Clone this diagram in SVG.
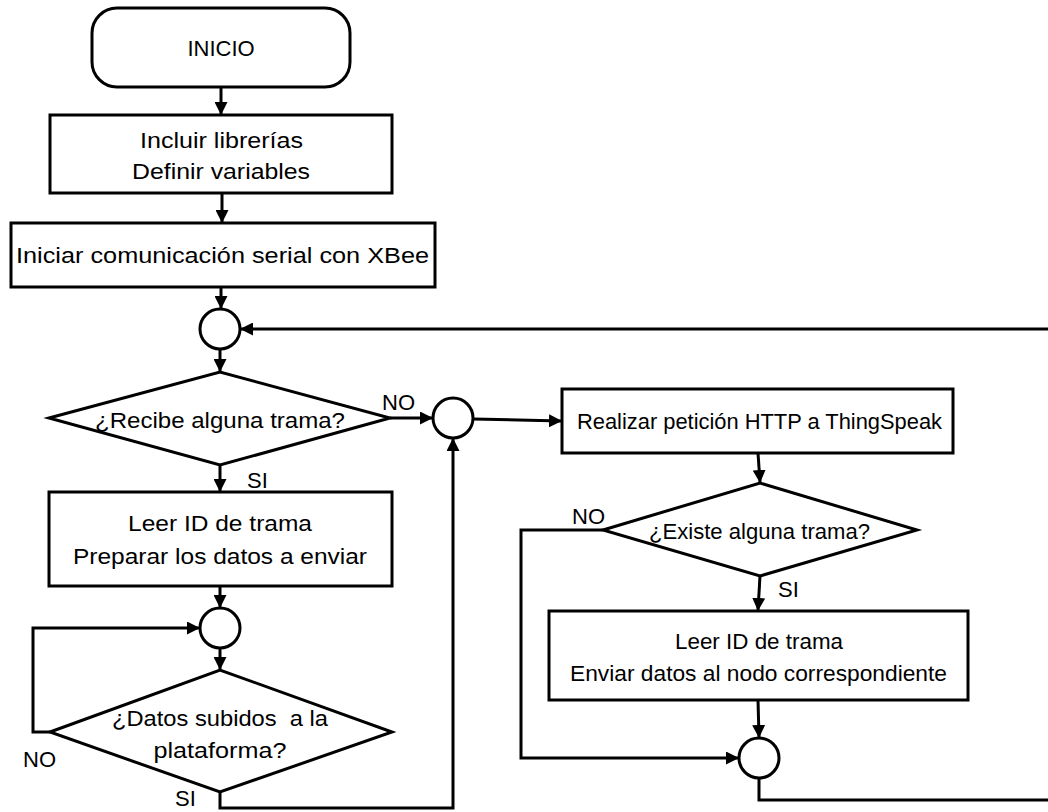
<svg xmlns="http://www.w3.org/2000/svg" width="1048" height="812" viewBox="0 0 1048 812">
  <style>
    .shape { fill: #ffffff; stroke: #000000; stroke-width: 3; }
    .link { fill: none; stroke: #000000; stroke-width: 3; }
    text { font-family: "Liberation Sans", Arial, sans-serif; font-size: 22px; fill: #000000; }
    .c { text-anchor: middle; }
  </style>
  <defs>
    <marker id="arrow" markerUnits="userSpaceOnUse" markerWidth="13" markerHeight="13" refX="12" refY="6.5" orient="auto">
      <path d="M0,0 L13,6.5 L0,13 Z" fill="#000000"/>
    </marker>
  </defs>

  <rect width="1048" height="812" fill="#ffffff"/>

  <!-- connectors -->
  <g id="connectors">
    <path class="link" d="M221,87 V114" marker-end="url(#arrow)"/>
    <path class="link" d="M222,193 V222" marker-end="url(#arrow)"/>
    <path class="link" d="M221,287 V308" marker-end="url(#arrow)"/>
    <path class="link" d="M220,349 V371" marker-end="url(#arrow)"/>
    <path class="link" d="M759,778 V800 H1053 V329 H241" marker-end="url(#arrow)"/>
    <path class="link" d="M390,418 H432" marker-end="url(#arrow)"/>
    <path class="link" d="M220,465 V491" marker-end="url(#arrow)"/>
    <path class="link" d="M220,586 V607" marker-end="url(#arrow)"/>
    <path class="link" d="M220,648 V669" marker-end="url(#arrow)"/>
    <path class="link" d="M50,732 H33 V628 H199" marker-end="url(#arrow)"/>
    <path class="link" d="M220,792 V808 H453 V439" marker-end="url(#arrow)"/>
    <path class="link" d="M473,419 L561,421" marker-end="url(#arrow)"/>
    <path class="link" d="M758,453 L760,482" marker-end="url(#arrow)"/>
    <path class="link" d="M603,530 H521 V758 H738" marker-end="url(#arrow)"/>
    <path class="link" d="M760,576 L758,610" marker-end="url(#arrow)"/>
    <path class="link" d="M758,700 L759,737" marker-end="url(#arrow)"/>
  </g>

  <!-- edge labels -->
  <g id="labels">
    <text x="382" y="410">NO</text>
    <text x="247" y="488">SI</text>
    <text x="23" y="767">NO</text>
    <text x="175" y="806">SI</text>
    <text x="572" y="524">NO</text>
    <text x="778" y="597">SI</text>
  </g>

  <g id="inicio">
    <rect class="shape" x="92" y="8" width="258" height="79" rx="25"/>
    <text class="c" x="221" y="56">INICIO</text>
  </g>

  <g id="incluir">
    <rect class="shape" x="50" y="115" width="342" height="78"/>
    <text class="c" x="221.5" y="148" textLength="163" lengthAdjust="spacingAndGlyphs">Incluir librerías</text>
    <text class="c" x="221" y="179" textLength="178" lengthAdjust="spacingAndGlyphs">Definir variables</text>
  </g>

  <g id="serial">
    <rect class="shape" x="11" y="223" width="424" height="64"/>
    <text class="c" x="222.5" y="263" textLength="413" lengthAdjust="spacingAndGlyphs">Iniciar comunicación serial con XBee</text>
  </g>

  <g id="union1">
    <circle class="shape" cx="220" cy="329" r="20"/>
  </g>

  <g id="recibe">
    <polygon class="shape" points="49,418 220,372 390,418 220,465"/>
    <text class="c" x="220" y="428" textLength="250" lengthAdjust="spacingAndGlyphs">¿Recibe alguna trama?</text>
  </g>

  <g id="union2">
    <circle class="shape" cx="453" cy="418" r="20"/>
  </g>

  <g id="leer1">
    <rect class="shape" x="49" y="492" width="343" height="94"/>
    <text class="c" x="220" y="531" textLength="184" lengthAdjust="spacingAndGlyphs">Leer ID de trama</text>
    <text class="c" x="220" y="564" textLength="294" lengthAdjust="spacingAndGlyphs">Preparar los datos a enviar</text>
  </g>

  <g id="union3">
    <circle class="shape" cx="220" cy="628" r="20"/>
  </g>

  <g id="subidos">
    <polygon class="shape" points="50,732 220,670 392,732 220,792"/>
    <text class="c" x="220" y="726" textLength="216" lengthAdjust="spacingAndGlyphs" xml:space="preserve">¿Datos subidos  a la</text>
    <text class="c" x="220" y="758" textLength="133" lengthAdjust="spacingAndGlyphs">plataforma?</text>
  </g>

  <g id="peticion">
    <rect class="shape" x="562" y="389" width="391" height="64"/>
    <text class="c" x="759.5" y="429" textLength="365" lengthAdjust="spacingAndGlyphs">Realizar petición HTTP a ThingSpeak</text>
  </g>

  <g id="existe">
    <polygon class="shape" points="603,530 760,483 917,530 760,576"/>
    <text class="c" x="759.5" y="539" textLength="221" lengthAdjust="spacingAndGlyphs">¿Existe alguna trama?</text>
  </g>

  <g id="leer2">
    <rect class="shape" x="549" y="611" width="419" height="89"/>
    <text class="c" x="759" y="649" textLength="168" lengthAdjust="spacingAndGlyphs">Leer ID de trama</text>
    <text class="c" x="758.5" y="681" textLength="377" lengthAdjust="spacingAndGlyphs">Enviar datos al nodo correspondiente</text>
  </g>

  <g id="union4">
    <circle class="shape" cx="759" cy="758" r="20"/>
  </g>
</svg>
